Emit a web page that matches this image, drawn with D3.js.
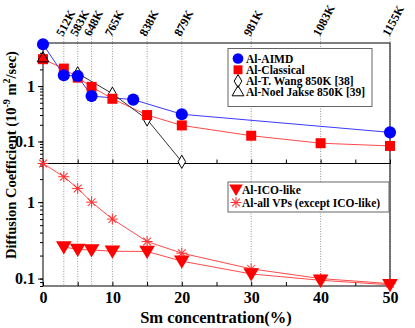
<!DOCTYPE html>
<html>
<head>
<meta charset="utf-8">
<script src="https://cdn.jsdelivr.net/npm/d3@7"></script>
<style>
body{margin:0;background:#fff;}
text{font-family:"Liberation Serif","DejaVu Serif",serif;font-weight:bold;}
</style>
</head>
<body>
<div></div>
<script>
// top panel data
var xAIMD = [0, 3, 5, 7, 13, 20, 50];
var yAIMD = [5.7, 1.57, 1.52, 0.66, 0.57, 0.31, 0.146];
var xClassic = [0, 3, 5, 7, 10, 15, 20, 30, 40, 50];
var yClassic = [3.06, 2.07, 1.42, 0.97, 0.59, 0.30, 0.195, 0.127, 0.093, 0.083];
var xWang = [5, 10, 15, 20];
var yWang = [1.70, 0.73, 0.25, 0.043];
var xJakse = [0];
var yJakse = [3.15];
// bottom panel data
var xICO = [3, 5, 7, 10, 15, 20, 30, 40, 50];
var yICO = [0.26, 0.24, 0.237, 0.228, 0.226, 0.169, 0.115, 0.095, 0.083];
var xVP = [0, 3, 5, 7, 10, 15, 20, 30, 40, 50];
var yVP = [3.2, 2.15, 1.51, 1.0, 0.60, 0.305, 0.215, 0.134, 0.10, 0.086];
// temperatures on top
var xTemp = [3, 5, 7, 10, 15, 20, 30, 40, 50];
var tempLabels = ["512K", "583K", "648K", "765K", "838K", "879K", "981K", "1083K", "1155K"];

const W = 415, H = 328;
const L = 43, R = 390, T = 43, MID = 163.5, B = 286;

const svg = d3.select("div").append("svg").attr("width", W).attr("height", H);

const x = d3.scaleLinear().domain([0, 50]).range([L, R]);
const yTop = d3.scaleLog().domain([0.04, 6]).range([MID, T]);
const yBot = d3.scaleLog().domain([0.08, 3.2]).range([B, MID]);

const zip = (xs, ys) => xs.map((d, i) => [d, ys[i]]);

// dotted temperature guides
svg.append("g").selectAll("line").data(xTemp).enter().append("line")
    .attr("x1", d => x(d)).attr("x2", d => x(d))
    .attr("y1", 36).attr("y2", B)
    .attr("stroke", "#999").attr("stroke-width", 1).attr("stroke-dasharray", "1,1.5");

svg.append("g").selectAll("text").data(xTemp).enter().append("text")
    .attr("transform", (d, i) => "translate(" + (x(d) - 1) + ",37) rotate(-62)")
    .attr("font-size", 12)
    .text((d, i) => tempLabels[i]);

// axes
function drawAxes(y, top, bottom, labels) {
    const minor = y.ticks().filter(v => v >= y.domain()[0] && v <= y.domain()[1]);
    svg.append("g").attr("transform", "translate(" + L + ",0)")
        .call(d3.axisLeft(y).tickValues(minor).tickSize(3).tickFormat(""))
        .call(g => g.select(".domain").remove());
    svg.append("g").attr("transform", "translate(" + L + ",0)")
        .call(d3.axisLeft(y).tickValues([0.1, 1]).tickSize(5).tickPadding(3)
            .tickFormat(d => d === 1 ? "1" : "0.1"))
        .call(g => g.select(".domain").remove())
        .call(g => g.selectAll("text").attr("font-size", 16).attr("fill", "#000")
            .attr("font-family", "Liberation Serif"));
    svg.append("g").attr("transform", "translate(0," + bottom + ")")
        .call(d3.axisBottom(x).ticks(10).tickSize(-4).tickFormat(labels ? (d => d % 10 === 0 ? d : "") : ""))
        .call(g => g.select(".domain").remove())
        .call(g => g.selectAll("text").attr("font-size", 16).attr("dy", "0.9em")
            .attr("font-family", "Liberation Serif"));
    svg.append("rect").attr("x", L).attr("y", top).attr("width", R - L).attr("height", bottom - top)
        .attr("fill", "none").attr("stroke", "#000").attr("stroke-width", 1);
}
drawAxes(yTop, T, MID, false);
drawAxes(yBot, MID, B, true);

const lineTop = d3.line().x(d => x(d[0])).y(d => yTop(d[1]));
const lineBot = d3.line().x(d => x(d[0])).y(d => yBot(d[1]));

// top panel lines
svg.append("path").attr("d", lineTop(zip(xClassic, yClassic))).attr("fill", "none").attr("stroke", "#ff4a4a").attr("stroke-width", 1);
svg.append("path").attr("d", lineTop(zip(xAIMD, yAIMD))).attr("fill", "none").attr("stroke", "#3a3aff").attr("stroke-width", 1);
svg.append("path").attr("d", lineTop(zip(xWang, yWang))).attr("fill", "none").attr("stroke", "#333").attr("stroke-width", 1);

// bottom panel lines
svg.append("path").attr("d", lineBot(zip(xVP, yVP))).attr("fill", "none").attr("stroke", "#ff4a4a").attr("stroke-width", 1);
svg.append("path").attr("d", lineBot(zip(xICO, yICO))).attr("fill", "none").attr("stroke", "#ff4a4a").attr("stroke-width", 1);

// marker helpers
const sym = (type, size) => d3.symbol().type(type).size(size)();
function markers(data, yS, type, size, fill, stroke) {
    svg.append("g").selectAll("path").data(data).enter().append("path")
        .attr("transform", d => "translate(" + x(d[0]) + "," + yS(d[1]) + ")")
        .attr("d", sym(type, size))
        .attr("fill", fill).attr("stroke", stroke).attr("stroke-width", 1);
}
// asterisk marker drawn at given pixel positions
function stars(parent, pts) {
    const g = parent.append("g").selectAll("g").data(pts).enter().append("g")
        .attr("transform", d => "translate(" + d[0] + "," + d[1] + ")");
    [0, 45, 90, 135].forEach(a => {
        g.append("line").attr("x1", -5.5).attr("x2", 5.5).attr("y1", 0).attr("y2", 0)
            .attr("transform", "rotate(" + a + ")")
            .attr("stroke", "#ff3030").attr("stroke-width", 1);
    });
}
const downTri = {
    draw(ctx, size) {
        const s = Math.sqrt(size);
        ctx.moveTo(-s * 0.62, -s * 0.45);
        ctx.lineTo(s * 0.62, -s * 0.45);
        ctx.lineTo(0, s * 0.6);
        ctx.closePath();
    }
};

markers(zip(xWang, yWang), yTop, d3.symbolDiamond, 50, "#fff", "#000");
markers(zip(xClassic, yClassic), yTop, d3.symbolSquare, 100, "#ff0000", "none");
markers(zip(xAIMD, yAIMD), yTop, d3.symbolCircle, 115, "#0000ff", "none");
markers(zip(xJakse, yJakse), yTop, d3.symbolTriangle, 60, "none", "#000");

stars(svg, zip(xVP, yVP).map(d => [x(d[0]), yBot(d[1])]));
markers(zip(xICO, yICO), yBot, downTri, 160, "#ff0000", "none");

// legend (top)
const lg1 = svg.append("g");
lg1.append("rect").attr("x", 228).attr("y", 48.5).attr("width", 144).attr("height", 58)
    .attr("fill", "#fff").attr("stroke", "#666").attr("stroke-width", 1);
const leg1 = [
    {name: "Al-AIMD", type: d3.symbolCircle, size: 90, fill: "#0000ff", stroke: "none"},
    {name: "Al-Classical", type: d3.symbolSquare, size: 80, fill: "#ff0000", stroke: "none"},
    {name: "Al-T. Wang 850K [38]", type: d3.symbolDiamond, size: 50, fill: "#fff", stroke: "#000"},
    {name: "Al-Noel Jakse 850K [39]", type: d3.symbolTriangle, size: 60, fill: "none", stroke: "#000"}
];
leg1.forEach((d, i) => {
    const yy = 58.5 + i * 11.3;
    lg1.append("path").attr("transform", "translate(238," + yy + ")").attr("d", sym(d.type, d.size))
        .attr("fill", d.fill).attr("stroke", d.stroke).attr("stroke-width", 1);
    lg1.append("text").attr("x", 246).attr("y", yy + 4).attr("font-size", 11.5).text(d.name);
});

// legend (bottom)
const lg2 = svg.append("g");
lg2.append("rect").attr("x", 228).attr("y", 182).attr("width", 161).attr("height", 30)
    .attr("fill", "#fff").attr("stroke", "#666").attr("stroke-width", 1);
lg2.append("path").attr("transform", "translate(236,189.5)").attr("d", sym(downTri, 120)).attr("fill", "#ff0000");
stars(lg2, [[236, 202.5]]);
lg2.append("text").attr("x", 242).attr("y", 193.5).attr("font-size", 11.5).text("Al-ICO-like");
lg2.append("text").attr("x", 242).attr("y", 206.5).attr("font-size", 11.5).text("Al-all VPs (except ICO-like)");

// axis titles
svg.append("text").attr("x", 216).attr("y", 323).attr("text-anchor", "middle").attr("font-size", 16.5)
    .text("Sm concentration(%)");
const yt = svg.append("text").attr("transform", "translate(16,155) rotate(-90)")
    .attr("text-anchor", "middle").attr("font-size", 14.5);
yt.append("tspan").text("Diffusion Coefficient (10");
yt.append("tspan").attr("dy", -6).attr("font-size", 10).text("-9");
yt.append("tspan").attr("dy", 6).text(" m");
yt.append("tspan").attr("dy", -6).attr("font-size", 10).text("2");
yt.append("tspan").attr("dy", 6).text("/sec)");
</script>
</body>
</html>
